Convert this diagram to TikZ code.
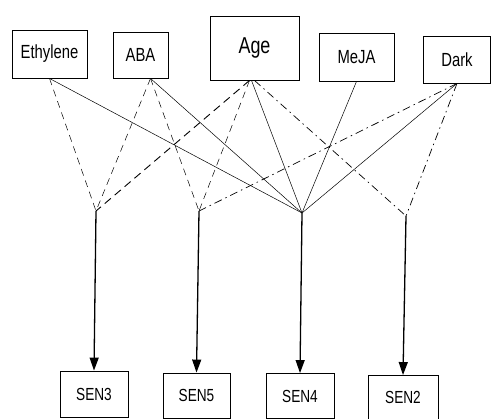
\documentclass[tikz,border=0pt]{standalone}
\usepackage{fontspec}
\setmainfont{Liberation Sans}[FakeStretch=0.78]
\usetikzlibrary{arrows.meta}

\begin{document}
\begin{tikzpicture}[x=1pt, y=-1pt,
  box/.style={draw, line width=0.9pt, inner sep=0pt, font=\fontsize{19}{21}\selectfont},
  gene/.style={box, font=\fontsize{17.5}{20}\selectfont},
  feed/.style={line width=0.5pt},
  dsh/.style={feed, dash pattern=on 7pt off 5pt},
  dshbold/.style={line width=0.9pt, dash pattern=on 8pt off 5pt},
  dshdot/.style={feed, line width=0.7pt, dash pattern=on 8pt off 4pt on 1.5pt off 4pt},
  act/.style={line width=1.3pt, -{Triangle[length=13pt, width=9pt]}}]
\useasboundingbox (0,0) rectangle (492,418);
% regulators
\node[box, minimum width=75pt, minimum height=48pt] (eth) at (49.5,54) {Ethylene};
\node[box, minimum width=55pt, minimum height=46pt] (aba) at (140.5,55) {ABA};
\node[box, minimum width=89pt, minimum height=64pt, font=\fontsize{23}{25}\selectfont] (age) at (254.5,48) {Age};
\node[box, minimum width=75pt, minimum height=48pt] (meja) at (356.5,57) {MeJA};
\node[box, minimum width=67pt, minimum height=47pt] (dark) at (457,59.5) {Dark};
% genes
\node[gene, minimum width=68pt, minimum height=46pt] (sen3) at (94,394) {SEN3};
\node[gene, minimum width=67pt, minimum height=45pt] (sen5) at (196.5,395.5) {SEN5};
\node[gene, minimum width=68pt, minimum height=45pt] (sen4) at (300,396) {SEN4};
\node[gene, minimum width=70pt, minimum height=44pt] (sen2) at (403,397.5) {SEN2};
% junctions
\coordinate (j3) at (96,211);
\coordinate (j5) at (199,211);
\coordinate (j4) at (302,213);
\coordinate (j2) at (406,216);
\draw[dsh] (eth.south) -- (j3);
\draw[dsh] ([xshift=10pt]aba.south) -- (j3);
\draw[dshbold] ([xshift=-5pt]age.south) -- (j3);
\draw[dsh] ([xshift=10pt]aba.south) -- (j5);
\draw[dsh] ([xshift=-5pt]age.south) -- (j5);
\draw[dshdot] (dark.south) -- (j5);
\draw[feed] (eth.south) -- (j4);
\draw[feed] ([xshift=10pt]aba.south) -- (j4);
\draw[feed] ([xshift=-3pt]age.south) -- (j4);
\draw[feed] (meja.south) -- (j4);
\draw[feed] (dark.south) -- (j4);
\draw[dshdot] (age.south) -- (j2);
\draw[dshdot] (dark.south) -- (j2);
\draw[act] (j3) -- (sen3.north);
\draw[act] (j5) -- (sen5.north);
\draw[act] (j4) -- (sen4.north);
\draw[act] (j2) -- (sen2.north);
\end{tikzpicture}
\end{document}
